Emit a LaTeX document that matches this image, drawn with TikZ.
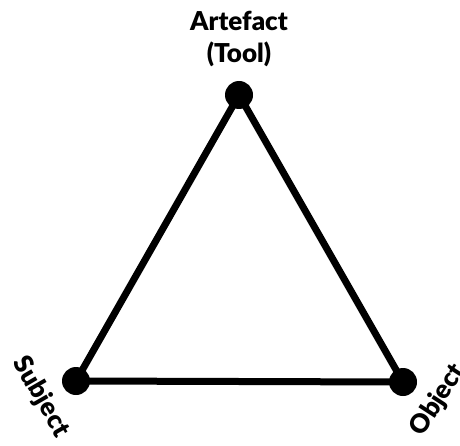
\documentclass[tikz,border=0pt]{standalone}
\usepackage{fontspec}
\setmainfont{Lato}[BoldFont={* Black}]
\begin{document}
\begin{tikzpicture}[x=1pt,y=1pt,
  edge/.style={line width=7pt},
  vertex/.style={circle,fill=black,inner sep=0pt,minimum size=28pt},
  lbl/.style={font=\fontsize{26}{32}\selectfont\bfseries,align=center,inner sep=0pt}]
\useasboundingbox (0,0) rectangle (460,445);
\node[vertex] (A) at (239,350) {};
\node[vertex] (S) at (76,64) {};
\node[vertex] (O) at (403,63) {};
\draw[edge] (S.center) -- (A.center) -- (O.center) -- cycle;
\node[lbl] (tA) at (239,406) {Artefact\\(Tool)};
\node[lbl,rotate=-60] (tS) at (41,48) {Subject};
\node[lbl,rotate=57] (tO) at (438,45) {Object};
\end{tikzpicture}
\end{document}
